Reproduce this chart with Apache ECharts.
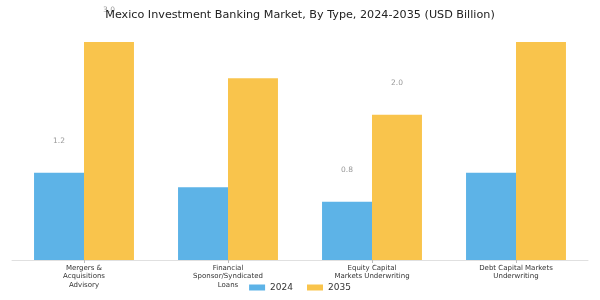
<!DOCTYPE html>
<html>
<head>
<meta charset="utf-8">
<script src="https://cdn.jsdelivr.net/npm/echarts@6/dist/echarts.min.js"></script>
<style>html,body{margin:0;padding:0;background:#fff}#c{width:600px;height:300px}</style>
</head>
<body>
<div id="c"></div>
<script>
const categories = ["Mergers &\nAcquisitions\nAdvisory", "Financial\nSponsor/Syndicated\nLoans", "Equity Capital\nMarkets Underwriting", "Debt Capital Markets\nUnderwriting"];
const seriesNames = ["2024", "2035"];
const values2024 = [1.2, 1.0, 0.8, 1.2];
const values2035 = [3.0, 2.5, 2.0, 3.0];
const labeledCategories = [0, 2];

const font = "DejaVu Sans";
function mkData(vals) {
  return vals.map((v, i) => ({
    value: v,
    label: { show: labeledCategories.includes(i) }
  }));
}
const chart = echarts.init(document.getElementById('c'), null, { renderer: 'canvas' });
chart.setOption({
  animation: false,
  title: {
    text: "Mexico Investment Banking Market, By Type, 2024-2035 (USD Billion)",
    left: 'center', top: 5,
    textStyle: { fontFamily: font, fontSize: 11.2, fontWeight: 'normal', color: '#222' }
  },
  legend: {
    data: seriesNames, top: 278, left: 'center',
    itemWidth: 16, itemHeight: 6, itemGap: 14,
    textStyle: { fontFamily: font, fontSize: 9, color: '#333' },
    icon: 'rect'
  },
  grid: { left: 12, right: 12, top: 42, bottom: 40, containLabel: false },
  xAxis: {
    type: 'category', data: categories,
    axisLine: { lineStyle: { color: '#e0e0e0' } },
    axisTick: { show: true, alignWithLabel: true, length: 3, lineStyle: { color: '#bbb' } },
    axisLabel: { fontFamily: font, fontSize: 7, color: '#333', interval: 0, lineHeight: 8.4, margin: 4 }
  },
  yAxis: { type: 'value', min: 0, max: 3.0, show: false, splitLine: { show: false } },
  series: [
    { name: seriesNames[0], type: 'bar', data: mkData(values2024), barWidth: '34.7%', barGap: '0%',
      itemStyle: { color: '#5DB3E7' },
      label: { position: 'top', distance: 28, fontFamily: font, fontSize: 7.5, color: '#999', formatter: p => p.value.toFixed(1) } },
    { name: seriesNames[1], type: 'bar', data: mkData(values2035), barWidth: '34.7%', barGap: '0%',
      itemStyle: { color: '#F9C44C' },
      label: { position: 'top', distance: 28, fontFamily: font, fontSize: 7.5, color: '#999', formatter: p => p.value.toFixed(1) } }
  ]
});
</script>
</body>
</html>
